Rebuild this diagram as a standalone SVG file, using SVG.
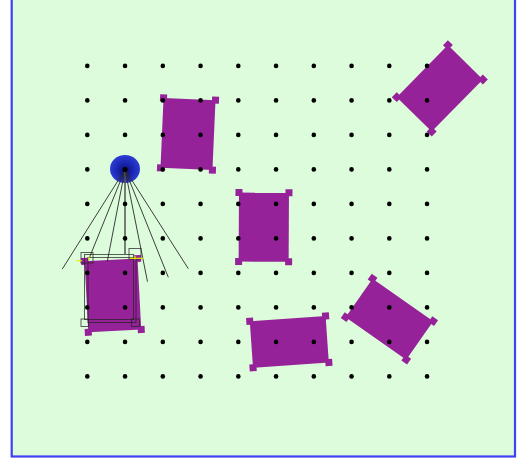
<svg xmlns="http://www.w3.org/2000/svg" width="520" height="461" viewBox="0 0 520 461">
<defs>
<style>
.card{fill:#96229a}
.fan line{stroke:#2a2a2a;stroke-width:0.9}
.ol{fill:none;stroke:#222;stroke-width:0.9;opacity:0.8}
.yl{stroke:#e8e800;stroke-width:1.2}
</style>
<radialGradient id="bg1" cx="0.5" cy="0.5" r="0.5" fx="0.5" fy="0.6">
<stop offset="0" stop-color="#0a0a7a"/>
<stop offset="0.55" stop-color="#1a28b0"/>
<stop offset="1" stop-color="#2c3cd4"/>
</radialGradient>
</defs>
<rect x="0" y="0" width="520" height="461" fill="#ffffff"/>
<rect x="11.7" y="-5" width="503.3" height="461.5" fill="#ddfcdc" stroke="#4040f8" stroke-width="2.2"/>

<g id="rectA" class="card" transform="translate(188,134) rotate(2.5)">
<rect x="-26" y="-35" width="52" height="70"/>
<rect x="-29.5" y="-38.5" width="7" height="7"/><rect x="22.5" y="-38.5" width="7" height="7"/>
<rect x="22.5" y="31.5" width="7" height="7"/><rect x="-29.5" y="31.5" width="7" height="7"/>
</g>
<g id="rectB" class="card" transform="translate(263.8,227.2) rotate(0.3)">
<rect x="-25" y="-34.5" width="50" height="69"/>
<rect x="-28.5" y="-38" width="7" height="7"/><rect x="21.5" y="-38" width="7" height="7"/>
<rect x="21.5" y="31" width="7" height="7"/><rect x="-28.5" y="31" width="7" height="7"/>
</g>
<g id="rectC" class="card" transform="translate(289.3,341.9) rotate(-4)">
<rect x="-38" y="-23.25" width="76" height="46.5"/>
<rect x="-41.5" y="-26.75" width="7" height="7"/><rect x="34.5" y="-26.75" width="7" height="7"/>
<rect x="34.5" y="19.75" width="7" height="7"/><rect x="-41.5" y="19.75" width="7" height="7"/>
</g>
<g id="rectD" class="card" transform="translate(389.4,319.2) rotate(35)">
<rect x="-37" y="-23.5" width="74" height="47"/>
<rect x="-40.5" y="-27" width="7" height="7"/><rect x="33.5" y="-27" width="7" height="7"/>
<rect x="33.5" y="20" width="7" height="7"/><rect x="-40.5" y="20" width="7" height="7"/>
</g>
<g id="rectE" class="card" transform="translate(439.8,88.3) rotate(-45.5)">
<rect x="-36.5" y="-24.5" width="73" height="49"/>
<rect x="-40" y="-28" width="7" height="7"/><rect x="33" y="-28" width="7" height="7"/>
<rect x="33" y="21" width="7" height="7"/><rect x="-40" y="21" width="7" height="7"/>
</g>
<g id="rectF" class="card" transform="translate(112.9,295.4) rotate(-3)">
<rect x="-26.5" y="-35.5" width="53" height="71"/>
<rect x="-30" y="-39" width="7" height="7"/><rect x="23" y="-39" width="7" height="7"/>
<rect x="23" y="32" width="7" height="7"/><rect x="-30" y="32" width="7" height="7"/>
</g>

<g id="sensor">
<ellipse cx="125" cy="169" rx="15" ry="14" fill="url(#bg1)"/>
</g>

<g id="connectors" class="fan">
<line x1="125" y1="169.5" x2="62.3" y2="269"/>
<line x1="125" y1="169.5" x2="89.5" y2="257.5"/>
<line x1="125" y1="169.5" x2="107.3" y2="261.5"/>
<line x1="125" y1="169.5" x2="125" y2="254" style="stroke:#555;stroke-width:1.5"/>
<line x1="125" y1="169.5" x2="147.5" y2="281.7"/>
<line x1="125" y1="169.5" x2="168.3" y2="277.3"/>
<line x1="125" y1="169.5" x2="188.3" y2="268.7"/>
</g>

<g id="outline">
<rect class="ol" x="84.5" y="254.5" width="49" height="65"/>
<rect class="ol" x="88" y="257.5" width="48" height="65"/>
<rect class="ol" x="81" y="252.5" width="12" height="10.5"/>
<rect class="ol" x="129" y="248.5" width="12" height="10.5"/>
<rect class="ol" x="81" y="319" width="7.5" height="7.5"/>
<rect class="ol" x="131.5" y="319" width="8" height="7.5"/>
<line class="yl" x1="76.5" y1="260.7" x2="82" y2="260.7"/>
<line class="yl" x1="89" y1="256.5" x2="89" y2="260.5"/>
<line class="yl" x1="130" y1="258.3" x2="143.5" y2="258.3"/>
<line class="yl" x1="135" y1="256" x2="135" y2="259.5"/>
</g>

<g id="dots" fill="#000">
<circle cx="125" cy="169.5" r="2.5"/>
<g id="row1"><circle cx="87.3" cy="65.9" r="2.3"/><circle cx="125.05" cy="65.9" r="2.3"/><circle cx="162.8" cy="65.9" r="2.3"/><circle cx="200.55" cy="65.9" r="2.3"/><circle cx="238.3" cy="65.9" r="2.3"/><circle cx="276.05" cy="65.9" r="2.3"/><circle cx="313.8" cy="65.9" r="2.3"/><circle cx="351.55" cy="65.9" r="2.3"/><circle cx="389.3" cy="65.9" r="2.3"/><circle cx="427.05" cy="65.9" r="2.3"/></g>
<use href="#row1" y="34.5"/>
<use href="#row1" y="69"/>
<use href="#row1" y="103.5"/>
<use href="#row1" y="138"/>
<use href="#row1" y="172.5"/>
<use href="#row1" y="207"/>
<use href="#row1" y="241.5"/>
<use href="#row1" y="276"/>
<use href="#row1" y="310.5"/>
</g>
</svg>
